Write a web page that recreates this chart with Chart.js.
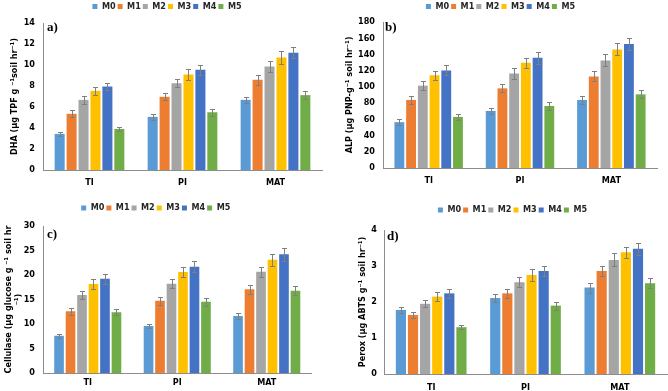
<!DOCTYPE html>
<html><head><meta charset="utf-8">
<script src="https://cdn.jsdelivr.net/npm/chart.js@4.4.1/dist/chart.umd.min.js"></script>
<style>
html,body{margin:0;padding:0;background:#fff;overflow:hidden;}
body{width:668px;height:391px;position:relative;}
canvas{position:absolute;}
</style></head><body>
<canvas id="ca" width="334" height="195" style="left:0;top:0"></canvas>
<canvas id="cb" width="334" height="195" style="left:334px;top:0"></canvas>
<canvas id="cc" width="334" height="196" style="left:0;top:195px"></canvas>
<canvas id="cd" width="334" height="196" style="left:334px;top:195px"></canvas>
<script>
// ---- data ----
const categories = ['TI', 'PI', 'MAT'];
const seriesNames = ['M0', 'M1', 'M2', 'M3', 'M4', 'M5'];
const seriesColors = ['#5B9BD5', '#ED7D31', '#A5A5A5', '#FFC000', '#4472C4', '#70AD47'];

// rows = series M0..M5, columns = TI, PI, MAT
const dhaMeans = [[3.44, 5.06, 6.68], [5.35, 6.97, 8.59], [6.68, 8.27, 9.86], [7.54, 9.10, 10.72], [7.95, 9.55, 11.17], [3.91, 5.50, 7.13]];
const dhaErrors = [[0.19, 0.29, 0.32], [0.32, 0.35, 0.45], [0.38, 0.38, 0.48], [0.35, 0.50, 0.62], [0.35, 0.48, 0.54], [0.22, 0.32, 0.40]];

const alpMeans = [[56.5, 70.4, 83.9], [83.9, 98.2, 112.9], [101.5, 116.6, 132.6], [114.2, 129.7, 146.1], [120.3, 135.8, 153.0], [63.0, 76.5, 90.8]];
const alpErrors = [[3.3, 3.3, 4.5], [4.5, 4.9, 6.1], [5.3, 7.0, 7.4], [5.7, 6.5, 7.4], [6.1, 7.4, 7.4], [3.3, 4.5, 4.9]];

const celMeans = [[7.62, 9.59, 11.63], [12.59, 14.76, 17.07], [15.92, 18.23, 20.68], [18.16, 20.61, 23.13], [19.25, 21.70, 24.22], [12.38, 14.56, 16.80]];
const celErrors = [[0.41, 0.48, 0.68], [0.75, 0.82, 0.95], [0.82, 0.95, 1.02], [1.02, 1.09, 1.22], [1.02, 1.09, 1.29], [0.61, 0.82, 0.95]];

const perMeans = [[1.78, 2.11, 2.40], [1.64, 2.24, 2.86], [1.95, 2.55, 3.17], [2.15, 2.75, 3.38], [2.24, 2.86, 3.48], [1.30, 1.90, 2.52]];
const perErrors = [[0.09, 0.11, 0.14], [0.09, 0.12, 0.15], [0.10, 0.14, 0.18], [0.12, 0.16, 0.16], [0.12, 0.15, 0.17], [0.06, 0.11, 0.14]];

// ---- drawing ----
const F = '"DejaVu Sans Condensed", "DejaVu Sans", sans-serif';
const AX = '#8c8c8c';

function makeExtras(errors, label, lx, ly, legendExtra) {
  return {
    id: 'extras',
    beforeLayout(chart) {
      if (chart.legend && !chart.legend._wrapped) {
        const f = chart.legend.fit;
        chart.legend.fit = function () { f.call(this); this.height += legendExtra; };
        chart.legend._wrapped = true;
      }
    },
    afterDatasetsDraw(chart) {
      const ctx = chart.ctx, y = chart.scales.y;
      ctx.save();
      ctx.strokeStyle = '#7f7f7f';
      ctx.lineWidth = 1;
      chart.data.datasets.forEach((ds, i) => {
        chart.getDatasetMeta(i).data.forEach((bar, j) => {
          const v = ds.data[j], e = errors[i][j];
          const x = Math.round(bar.x) + 0.5;
          const yt = Math.round(y.getPixelForValue(v + e)) + 0.5;
          const yb = Math.round(y.getPixelForValue(v - e)) + 0.5;
          ctx.beginPath();
          ctx.moveTo(x, yt); ctx.lineTo(x, yb);
          ctx.moveTo(x - 2.5, yt); ctx.lineTo(x + 2.5, yt);
          ctx.moveTo(x - 2.5, yb); ctx.lineTo(x + 2.5, yb);
          ctx.stroke();
        });
      });
      ctx.restore();
    },
    afterDraw(chart) {
      const ctx = chart.ctx, a = chart.chartArea;
      ctx.save();
      ctx.font = 'bold 13px "Liberation Serif", serif';
      ctx.fillStyle = '#000';
      ctx.textBaseline = 'middle';
      ctx.fillText(label, a.left + lx, a.top + ly);
      ctx.restore();
    }
  };
}

function build(id, p) {
  const datasets = seriesNames.map((n, i) => ({
    label: n,
    data: p.means[i],
    backgroundColor: seriesColors[i],
    borderWidth: 0,
    categoryPercentage: 0.77,
    barPercentage: 0.84
  }));
  new Chart(document.getElementById(id), {
    type: 'bar',
    data: { labels: categories, datasets },
    options: {
      responsive: false,
      animation: false,
      devicePixelRatio: 1,
      layout: { padding: { left: p.pl, right: p.pr, top: p.pt, bottom: 0 } },
      plugins: {
        legend: {
          position: 'top',
          labels: { boxWidth: 5, boxHeight: 5, padding: 2, color: '#262626', font: { family: F, size: 9, weight: 'bold' } }
        },
        tooltip: { enabled: false }
      },
      scales: {
        x: {
          grid: { display: false, drawTicks: false },
          border: { display: true, color: AX, width: 1 },
          ticks: { padding: p.xpad, color: '#000', maxRotation: 0, autoSkip: false, font: { family: F, size: 9, weight: 'bold' } },
          afterFit(s) { s.height = p.xh; }
        },
        y: {
          min: 0, max: p.max,
          grid: { display: false, drawTicks: false },
          border: { display: true, color: AX, width: 1 },
          ticks: { stepSize: p.step, padding: p.ypad, color: '#000', font: { family: F, size: 9, weight: 'bold' } },
          title: { display: true, text: p.title, color: '#000', padding: { top: p.tpad, bottom: 0 }, font: { family: F, size: 9, weight: 'bold', lineHeight: 1.15 } },
          afterFit(s) { s.width = p.yw; }
        }
      }
    },
    plugins: [makeExtras(p.errors, p.label, p.lx, p.ly, p.extra)]
  });
}

build('ca', { means: dhaMeans, errors: dhaErrors, max: 14, step: 2, title: 'DHA (µg TPF g ⁻¹soil hr⁻¹)', label: 'a)',
  pl: 12, pr: 12, pt: 0, extra: 2, yw: 31, xh: 25, xpad: 7, ypad: 8, tpad: -3, lx: 4, ly: 5 });
build('cb', { means: alpMeans, errors: alpErrors, max: 180, step: 20, title: 'ALP (µg PNP-g⁻¹ soil hr⁻¹)', label: 'b)',
  pl: 10, pr: 11, pt: 0, extra: 1, yw: 39, xh: 27, xpad: 7, ypad: 8, tpad: 0, lx: 2, ly: 6 });
build('cc', { means: celMeans, errors: celErrors, max: 30, step: 5, title: ['Cellulase (µg glucose g ⁻¹ soil hr', '⁻¹)'], label: 'c)',
  pl: 0, pr: 22.5, pt: 6.5, extra: 3.5, yw: 43, xh: 18, xpad: 4, ypad: 8, tpad: 3, lx: 4, ly: 9 });
build('cd', { means: perMeans, errors: perErrors, max: 4, step: 1, title: 'Perox (µg ABTS g⁻¹ soil hr⁻¹)', label: 'd)',
  pl: 24, pr: 1, pt: 8.5, extra: 5.5, yw: 26, xh: 17, xpad: 8, ypad: 7, tpad: -1, lx: 3, ly: 7 });
</script>
</body></html>
